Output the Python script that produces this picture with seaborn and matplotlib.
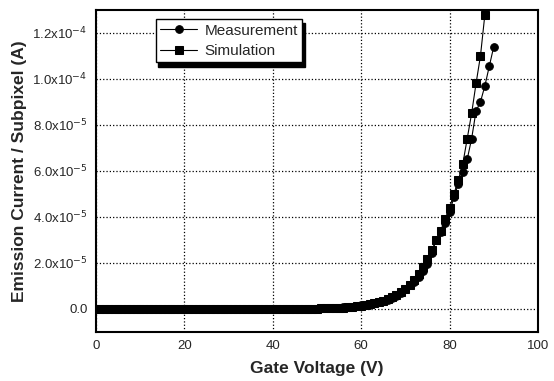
import numpy as np
import pandas as pd
import seaborn as sns
import matplotlib.pyplot as plt

# gate voltage (V) and emission current (units of 1e-5 A)
meas_v = list(range(0, 91))
meas_i = [0.0] * 51 + [0.02, 0.03, 0.03, 0.04, 0.05, 0.06, 0.08, 0.10, 0.12, 0.15,
                       0.17, 0.20, 0.24, 0.28, 0.33, 0.39, 0.46, 0.55, 0.68, 0.85,
                       1.02, 1.18, 1.38, 1.65, 1.95, 2.45, 3.00, 3.35, 3.75, 4.20,
                       4.85, 5.45, 5.95, 6.50, 7.40, 8.60, 9.00, 9.70, 10.55, 11.40]
sim_v = list(range(0, 89))
sim_i = [0.0] * 51 + [0.02, 0.02, 0.03, 0.04, 0.04, 0.05, 0.07, 0.09, 0.11, 0.14,
                      0.17, 0.21, 0.25, 0.30, 0.36, 0.43, 0.51, 0.60, 0.72, 0.88,
                      1.05, 1.25, 1.50, 1.80, 2.15, 2.55, 3.00, 3.40, 3.90, 4.40,
                      5.00, 5.60, 6.30, 7.40, 8.50, 9.80, 11.00, 12.80]

df = pd.concat([
    pd.DataFrame({'V': meas_v, 'I': np.array(meas_i) * 1e-5, 'series': 'Measurement'}),
    pd.DataFrame({'V': sim_v, 'I': np.array(sim_i) * 1e-5, 'series': 'Simulation'}),
])

sns.set_style('white')
plt.rcParams['font.family'] = ['Liberation Sans', 'DejaVu Sans']

fig = plt.figure(figsize=(5.54, 3.81), dpi=100)
ax = fig.add_axes([0.173, 0.129, 0.798, 0.845])

sns.lineplot(data=df, x='V', y='I', hue='series', style='series',
             palette={'Measurement': 'black', 'Simulation': 'black'},
             markers={'Measurement': 'o', 'Simulation': 's'}, dashes=False,
             markersize=5.5, markeredgecolor='black', linewidth=0.8, ax=ax)

ax.set_xlim(0, 100)
ax.set_ylim(-1e-5, 1.3e-4)
ax.set_xticks([0, 20, 40, 60, 80, 100])
yt = [0, 2e-5, 4e-5, 6e-5, 8e-5, 1e-4, 1.2e-4]
ax.set_yticks(yt)
ax.set_yticklabels(['0.0', r'2.0x10$^{-5}$', r'4.0x10$^{-5}$', r'6.0x10$^{-5}$',
                    r'8.0x10$^{-5}$', r'1.0x10$^{-4}$', r'1.2x10$^{-4}$'])
ax.tick_params(labelsize=9.5, length=0, pad=6)
ax.grid(True, linestyle=':', color='black', linewidth=0.9)
for s in ax.spines.values():
    s.set_color('black')
    s.set_linewidth(1.5)

ax.set_xlabel('Gate Voltage (V)', fontsize=12.5, fontweight='bold', labelpad=6)
ax.set_ylabel('Emission Current / Subpixel (A)', fontsize=12.5, fontweight='bold', labelpad=4)

handles, labels = ax.get_legend_handles_labels()
leg = ax.legend(handles, labels, loc='upper left', bbox_to_anchor=(0.118, 0.995),
                fancybox=False, edgecolor='black', framealpha=1, fontsize=11,
                shadow={'color': 'black', 'alpha': 1, 'ox': 2, 'oy': -3},
                handlelength=2.4, borderpad=0.3, labelspacing=0.4, handletextpad=0.5)
leg.get_frame().set_linewidth(1.0)

fig.savefig('out.png', dpi=100)
